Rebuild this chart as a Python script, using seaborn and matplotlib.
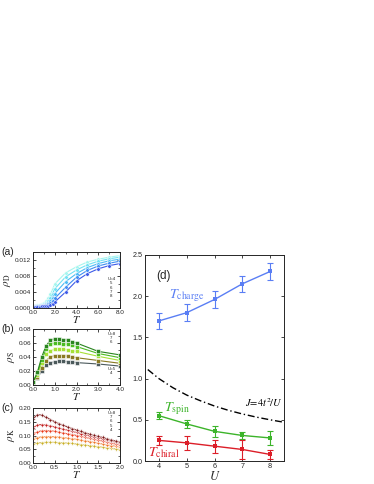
"""Stiffness panels (a)-(c) and transition temperatures vs U (d)."""

import matplotlib

matplotlib.use("Agg")
import matplotlib.pyplot as plt
import pandas as pd
import seaborn as sns
from matplotlib.ticker import AutoMinorLocator

sns.set_style("ticks")
plt.rcParams["font.family"] = ["Liberation Sans", "DejaVu Sans"]
plt.rcParams["mathtext.fontset"] = "stix"

U_LIST = [4, 5, 6, 7, 8]

# (a) rho_D vs T
T_A = [0.0, 0.2, 0.4, 0.6, 0.8, 1.0, 1.2, 1.4, 1.6, 1.8, 2.0, 3, 4, 5, 6, 7, 8]
RHO_D = {
    4: [0.0006, 0.0006, 0.0007, 0.0008, 0.0010, 0.0013, 0.0018, 0.0025, 0.0035,
        0.0047, 0.0060, 0.0088, 0.0103, 0.0115, 0.0122, 0.0127, 0.0131],
    5: [0.0005, 0.0005, 0.0006, 0.0007, 0.0008, 0.0010, 0.0013, 0.0018, 0.0026,
        0.0036, 0.0048, 0.0078, 0.0095, 0.0108, 0.0117, 0.0123, 0.0127],
    6: [0.0004, 0.0004, 0.0005, 0.0005, 0.0006, 0.0008, 0.0010, 0.0013, 0.0018,
        0.0026, 0.0036, 0.0066, 0.0086, 0.0101, 0.0111, 0.0118, 0.0122],
    7: [0.0003, 0.0003, 0.0004, 0.0004, 0.0005, 0.0006, 0.0007, 0.0009, 0.0012,
        0.0017, 0.0024, 0.0052, 0.0077, 0.0094, 0.0105, 0.0112, 0.0117],
    8: [0.0003, 0.0003, 0.0003, 0.0003, 0.0004, 0.0004, 0.0005, 0.0006, 0.0008,
        0.0011, 0.0015, 0.0040, 0.0068, 0.0086, 0.0098, 0.0106, 0.0111],
}
PAL_A = ["#a6f6ee", "#72e2f2", "#4cbcf4", "#3f8ef2", "#3c5ae8"]

# (b) rho_S vs T
T_B = [0.0, 0.2, 0.4, 0.6, 0.8, 1.0, 1.2, 1.4, 1.6, 1.8, 2.0, 3.0, 4.0]
RHO_S = {
    4: [0.003, 0.010, 0.020, 0.028, 0.032, 0.033, 0.034, 0.034, 0.033, 0.033,
        0.032, 0.030, 0.027],
    5: [0.003, 0.012, 0.025, 0.035, 0.040, 0.042, 0.042, 0.042, 0.041, 0.040,
        0.039, 0.035, 0.031],
    6: [0.004, 0.015, 0.031, 0.044, 0.049, 0.051, 0.051, 0.051, 0.050, 0.049,
        0.048, 0.041, 0.035],
    7: [0.004, 0.017, 0.036, 0.051, 0.058, 0.060, 0.060, 0.059, 0.058, 0.057,
        0.055, 0.045, 0.039],
    8: [0.004, 0.018, 0.040, 0.056, 0.064, 0.066, 0.066, 0.065, 0.064, 0.062,
        0.060, 0.048, 0.043],
}
PAL_B = ["#4c5a5c", "#8a7a22", "#a6e036", "#4cbc22", "#2a8420"]

# (c) rho_K vs T
T_C = [0.0, 0.1, 0.2, 0.3, 0.4, 0.5, 0.6, 0.7, 0.8, 0.9, 1.0,
       1.1, 1.2, 1.3, 1.4, 1.5, 1.6, 1.7, 1.8, 1.9, 2.0]
RHO_K = {
    4: [0.070, 0.072, 0.074, 0.075, 0.075, 0.075, 0.074, 0.073, 0.072, 0.071,
        0.069, 0.067, 0.065, 0.063, 0.061, 0.059, 0.057, 0.055, 0.053, 0.051,
        0.049],
    5: [0.088, 0.092, 0.095, 0.096, 0.096, 0.095, 0.094, 0.092, 0.090, 0.088,
        0.086, 0.083, 0.080, 0.078, 0.075, 0.072, 0.069, 0.066, 0.063, 0.061,
        0.058],
    6: [0.106, 0.113, 0.117, 0.118, 0.117, 0.115, 0.112, 0.109, 0.106, 0.103,
        0.100, 0.097, 0.093, 0.090, 0.086, 0.083, 0.080, 0.076, 0.072, 0.069,
        0.066],
    7: [0.128, 0.138, 0.140, 0.138, 0.135, 0.131, 0.127, 0.123, 0.119, 0.115,
        0.111, 0.107, 0.103, 0.099, 0.095, 0.092, 0.088, 0.084, 0.080, 0.076,
        0.072],
    8: [0.160, 0.176, 0.174, 0.166, 0.158, 0.150, 0.143, 0.137, 0.131, 0.125,
        0.120, 0.115, 0.110, 0.105, 0.101, 0.097, 0.093, 0.088, 0.084, 0.080,
        0.077],
}
PAL_C = ["#c8ae22", "#ee7422", "#e83414", "#c01818", "#781010"]

# (d) temperatures vs U
U_D = [4, 5, 6, 7, 8]
T_CHARGE = [1.70, 1.80, 1.96, 2.15, 2.30]
T_CHARGE_ERR = [0.10, 0.10, 0.10, 0.10, 0.10]
T_SPIN = [0.55, 0.45, 0.36, 0.31, 0.28]
T_SPIN_ERR = [0.045, 0.045, 0.065, 0.045, 0.085]
T_CHIRAL = [0.25, 0.22, 0.18, 0.14, 0.08]
T_CHIRAL_ERR = [0.055, 0.085, 0.08, 0.11, 0.05]
U_J = [3.6, 4.0, 4.5, 5.0, 5.5, 6.0, 6.5, 7.0, 7.5, 8.0, 8.5]
J_VAL = [1.11, 1.00, 0.89, 0.80, 0.73, 0.667, 0.615, 0.571, 0.533, 0.50, 0.47]

W, H = 374, 484


def _box(left, top, right, bottom):
    return [left / W, 1 - bottom / H, (right - left) / W, (bottom - top) / H]


def _long(t, curves):
    rows = []
    for u in U_LIST:
        for tt, v in zip(t, curves[u]):
            rows.append({"T": tt, "rho": v, "U": u})
    return pd.DataFrame(rows)


def _style(ax, fs=4.6):
    ax.tick_params(direction="in", top=True, right=True, labelsize=fs,
                   length=2.5, width=0.6, pad=1.5)
    ax.tick_params(which="minor", direction="in", top=True, right=True,
                   length=1.5, width=0.5)
    for s in ax.spines.values():
        s.set_linewidth(0.7)


def _small_panel(ax, df, pal, marker, xlim, xticks, ylim, yticks, yfmt,
                 ylabel, tag):
    sns.lineplot(data=df, x="T", y="rho", hue="U", palette=pal, marker=marker,
                 markersize=2.6, linewidth=0.8, markeredgewidth=0.4,
                 legend=False, ax=ax)
    ax.set_xlim(*xlim)
    ax.set_ylim(*ylim)
    ax.set_xticks(xticks)
    ax.set_xticklabels([f"{x:.1f}" for x in xticks])
    ax.set_yticks(yticks)
    ax.set_yticklabels([yfmt.format(y) for y in yticks])
    ax.yaxis.set_minor_locator(AutoMinorLocator(2))
    ax.xaxis.set_minor_locator(AutoMinorLocator(2))
    _style(ax)
    ax.set_xlabel(r"$T$", fontsize=8, labelpad=-1)
    ax.set_ylabel(ylabel, fontsize=8, labelpad=1)
    ax.text(-0.36, 1.0, tag, transform=ax.transAxes, fontsize=7.5,
            ha="left", va="center")


fig = plt.figure(figsize=(W / 100, H / 100), dpi=100)

ax_a = fig.add_axes(_box(33, 252, 120, 308))
_small_panel(ax_a, _long(T_A, RHO_D), PAL_A, "o", (0, 8),
             [0.0, 2.0, 4.0, 6.0, 8.0], (0, 0.014),
             [0.000, 0.004, 0.008, 0.012], "{:.3f}", r"$\rho_{\rm D}$", "(a)")
ax_a.text(0.9, 0.55, "U=4\n5\n6\n7\n8", transform=ax_a.transAxes,
          fontsize=3.2, ha="center", va="top", linespacing=1.1)

ax_b = fig.add_axes(_box(33, 329, 120, 385))
_small_panel(ax_b, _long(T_B, RHO_S), PAL_B, "s", (0, 4),
             [0.0, 1.0, 2.0, 3.0, 4.0], (0, 0.08),
             [0.00, 0.02, 0.04, 0.06, 0.08], "{:.2f}", r"$\rho_{\rm S}$", "(b)")
ax_b.text(0.9, 0.95, "U=8\n7\n6", transform=ax_b.transAxes,
          fontsize=3.2, ha="center", va="top", linespacing=1.1)
ax_b.text(0.9, 0.33, "U=5\n4", transform=ax_b.transAxes,
          fontsize=3.2, ha="center", va="top", linespacing=1.1)

ax_c = fig.add_axes(_box(33, 408, 120, 463))
_small_panel(ax_c, _long(T_C, RHO_K), PAL_C, "P", (0, 2),
             [0.0, 0.5, 1.0, 1.5, 2.0], (0, 0.20),
             [0.00, 0.05, 0.10, 0.15, 0.20], "{:.2f}", r"$\rho_{\rm K}$", "(c)")
ax_c.text(0.9, 0.95, "U=8\n7\n6\n5\n4", transform=ax_c.transAxes,
          fontsize=3.2, ha="center", va="top", linespacing=1.1)

# (d)
ax_d = fig.add_axes(_box(145, 255, 284, 461))
series = [
    (T_CHARGE, T_CHARGE_ERR, "#5a7ef4"),
    (T_SPIN, T_SPIN_ERR, "#3cb42a"),
    (T_CHIRAL, T_CHIRAL_ERR, "#dc1e28"),
]
for vals, err, col in series:
    sns.lineplot(x=U_D, y=vals, color=col, marker="s", markersize=3.5,
                 markeredgewidth=0, linewidth=1.0, ax=ax_d)
    ax_d.errorbar(U_D, vals, yerr=err, fmt="none", ecolor=col,
                  elinewidth=0.8, capsize=2, capthick=0.8)
sns.lineplot(x=U_J, y=J_VAL, color="black", linewidth=1.0, ax=ax_d,
             linestyle=(0, (5, 2, 1, 2)))
ax_d.set_xlim(3.5, 8.5)
ax_d.set_ylim(0, 2.5)
ax_d.set_xticks([4, 5, 6, 7, 8])
ax_d.set_yticks([0.0, 0.5, 1.0, 1.5, 2.0, 2.5])
ax_d.set_yticklabels(["0.0", "0.5", "1.0", "1.5", "2.0", "2.5"])
_style(ax_d, fs=5.2)
ax_d.set_xlabel(r"$U$", fontsize=9, labelpad=0)
ax_d.text(0.08, 0.90, "(d)", transform=ax_d.transAxes, fontsize=8.5,
          ha="left", va="center")
ax_d.text(4.35, 1.97, r"$T_{\rm charge}$", color="#5a7ef4", fontsize=10)
ax_d.text(4.2, 0.60, r"$T_{\rm spin}$", color="#3cb42a", fontsize=10)
ax_d.text(3.6, 0.06, r"$T_{\rm chiral}$", color="#dc1e28", fontsize=10)
ax_d.text(7.1, 0.66, r"$J\!=\!4t^2\!/U$", color="black", fontsize=7.5)

fig.savefig("out.png", dpi=100)
